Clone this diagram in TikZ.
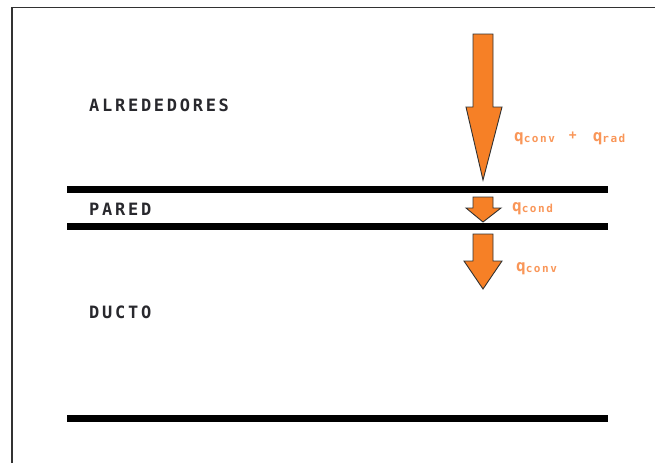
\documentclass[tikz,border=0pt]{standalone}
\usepackage{fontspec}
\newfontfamily\labfont[LetterSpace=16]{DejaVu Sans Mono Bold}
\newfontfamily\qfont{DejaVu Sans Mono Bold}
\newfontfamily\subfont[LetterSpace=14]{DejaVu Sans Mono Bold}
\definecolor{arrorange}{RGB}{246,128,38}
\definecolor{qorange}{RGB}{249,150,88}
\definecolor{framegray}{RGB}{50,50,50}
\definecolor{textdark}{RGB}{40,40,45}
\newcommand{\qsub}[1]{\raisebox{-1.5pt}{\subfont\fontsize{11}{11}\selectfont #1}}
\begin{document}
\begin{tikzpicture}[x=1pt,y=-1pt,
  layerline/.style={line width=7.5pt,black},
  flowarrow/.style={fill=arrorange,draw=framegray,line width=0.9pt,line join=miter},
  zonelabel/.style={anchor=base west,inner sep=0pt,text=textdark,font=\labfont\fontsize{17}{17}\selectfont},
  qlabel/.style={anchor=base west,inner sep=0pt,text=qorange,font=\qfont\fontsize{16}{16}\selectfont}]
\useasboundingbox (0,0) rectangle (655,463);
% frame (left and top edges)
\draw[framegray,line width=1.3pt] (12,463) -- (12,7.5) -- (655,7.5);
% layer lines
\draw[layerline] (67,189.5) -- (608,189.5);
\draw[layerline] (67,226.3) -- (608,226.3);
\draw[layerline] (67,418.3) -- (608,418.3);
% zone labels
\node[zonelabel] (alr) at (89,111) {ALREDEDORES};
\node[zonelabel] (par) at (89,215) {PARED};
\node[zonelabel] (duc) at (89,318) {DUCTO};
% arrows
\draw[flowarrow] (473,34) -- (493,34) -- (493,107) -- (502,107) -- (483,180) -- (466,107) -- (473,107) -- cycle;
\draw[flowarrow] (473,197) -- (493,197) -- (493,208) -- (501,208) -- (483,222) -- (466,208) -- (473,208) -- cycle;
\draw[flowarrow] (473,234) -- (493,234) -- (493,261) -- (502,261) -- (483,289) -- (464,261) -- (473,261) -- cycle;
% heat flux labels
\node[qlabel] (q1) at (514,141) {q\qsub{conv}\hspace{14pt}{\fontsize{13}{13}\selectfont\raisebox{2pt}{+}}\hspace{16pt}q\qsub{rad}};
\node[qlabel] (q2) at (512,211) {q\qsub{cond}};
\node[qlabel] (q3) at (516,271) {q\qsub{conv}};
\end{tikzpicture}
\end{document}
